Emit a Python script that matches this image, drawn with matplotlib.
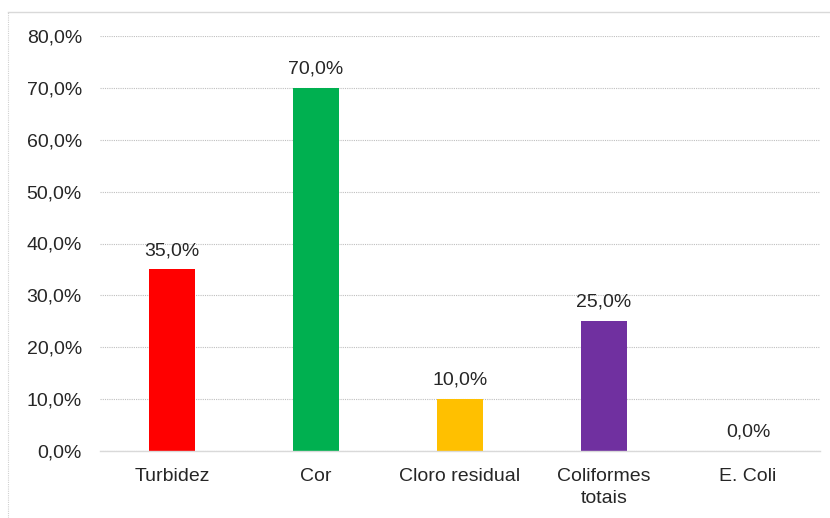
import matplotlib.pyplot as plt
from matplotlib.lines import Line2D

categories = ['Turbidez', 'Cor', 'Cloro residual', 'Coliformes\ntotais', 'E. Coli']
values = [35.0, 70.0, 10.0, 25.0, 0.0]
colors = ['#FF0000', '#00B050', '#FFC000', '#7030A0', '#7F7F7F']
yticks = [0, 10, 20, 30, 40, 50, 60, 70, 80]

plt.rcParams['font.family'] = ['Liberation Sans', 'DejaVu Sans']

fig = plt.figure(figsize=(8.3, 5.18), dpi=100)
ax = fig.add_axes([100 / 830, 1 - 451 / 518, 720 / 830, 415 / 518])

x = range(len(categories))
bars = ax.bar(x, values, width=0.32, color=colors)

for xi, v in zip(x, values):
    ax.annotate(f'{v:.1f}%'.replace('.', ','), (xi, v), xytext=(0, 7.5),
                textcoords='offset points', ha='center', va='bottom',
                fontsize=14, color='#262626')

ax.set_xlim(-0.5, len(categories) - 0.5)
ax.set_ylim(0, 80)
ax.set_yticks(yticks)
ax.set_yticklabels([f'{t:.1f}%'.replace('.', ',') for t in yticks])
ax.set_xticks(list(x))
ax.set_xticklabels(categories, linespacing=1.4)
ax.tick_params(axis='y', length=0, pad=13, labelsize=14, labelcolor='#262626')
ax.tick_params(axis='x', length=0, pad=12, labelsize=14, labelcolor='#262626')

ax.yaxis.grid(True, linestyle=(0, (1, 1)), color='#BFBFBF', linewidth=0.8)
ax.set_axisbelow(True)
for s in ['top', 'right', 'left']:
    ax.spines[s].set_visible(False)
ax.spines['bottom'].set_color('#D9D9D9')
ax.spines['bottom'].set_linewidth(1.0)

# outer chart frame
fig.add_artist(Line2D([8 / 830, 1.0], [1 - 12 / 518, 1 - 12 / 518],
                      color='#D9D9D9', linewidth=1.0, transform=fig.transFigure))
fig.add_artist(Line2D([8 / 830, 8 / 830], [0.0, 1 - 12 / 518],
                      color='#D0D0D0', linewidth=0.8, linestyle=(0, (1, 1)),
                      transform=fig.transFigure))

fig.savefig('out.png', dpi=100)
